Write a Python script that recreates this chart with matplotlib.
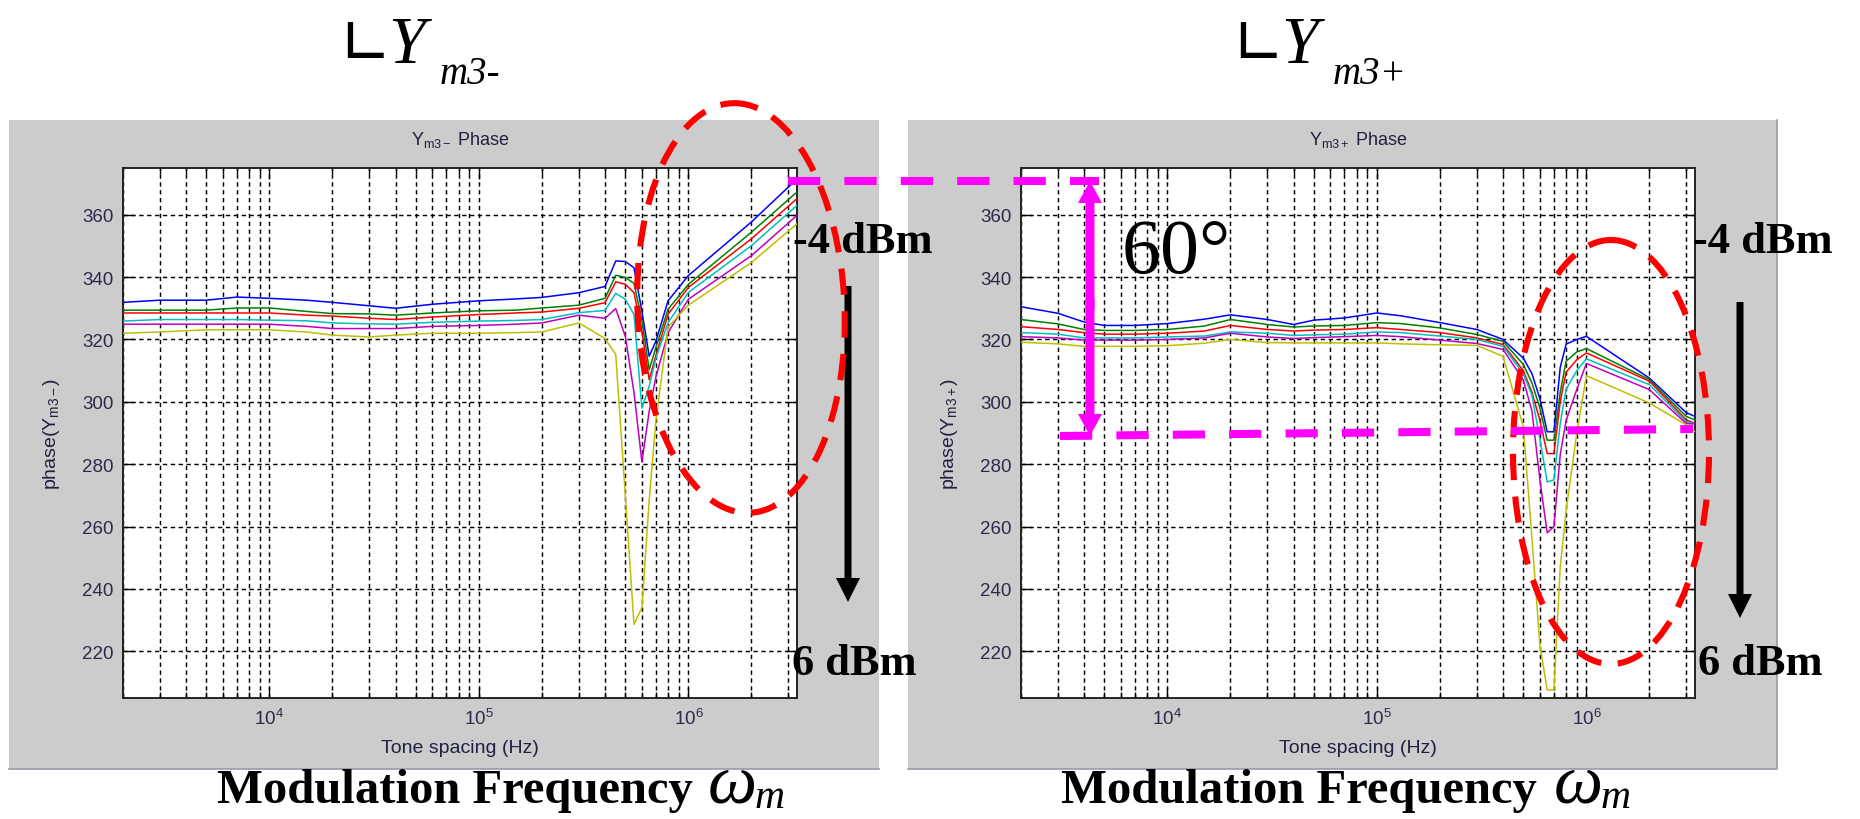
import numpy as np
import matplotlib
matplotlib.use("Agg")
import matplotlib.pyplot as plt
from matplotlib.patches import Rectangle, Ellipse, FancyArrow
from matplotlib.ticker import FixedLocator, LogLocator, NullFormatter, LogFormatterSciNotation

plt.rcParams['font.family'] = ['Liberation Sans', 'DejaVu Sans']
plt.rcParams['mathtext.fontset'] = 'custom'
plt.rcParams['mathtext.rm'] = 'Liberation Sans'
plt.rcParams['mathtext.it'] = 'Liberation Sans:italic'
plt.rcParams['mathtext.bf'] = 'Liberation Sans:bold'

# ---- measured phase of Y_m3- versus tone spacing, one trace per input power ----
freq_minus = [2e3, 3e3, 5e3, 7e3, 1e4, 1.5e4, 2e4, 3e4, 4e4, 6e4, 1e5, 1.5e5, 2e5,
              3e5, 4e5, 4.5e5, 5e5, 5.5e5, 6e5, 6.5e5, 7e5, 8e5, 1e6, 2e6, 3.3e6]
minus_m4dbm = [331.9, 332.6, 332.6, 333.6, 333.2, 332.6, 331.9, 330.8, 330.0, 331.3, 332.4, 333.0, 333.5,
               335.0, 337.0, 345.2, 345.0, 343.0, 329.0, 314.6, 319.5, 332.4, 340.5, 357.7, 371.5]
minus_m2dbm = [329.4, 329.4, 329.4, 330.1, 330.1, 329.0, 328.3, 328.2, 327.8, 328.5, 329.2, 329.4, 330.1,
               331.0, 333.2, 340.6, 339.9, 338.0, 326.0, 310.3, 317.5, 329.7, 337.7, 354.4, 367.3]
minus_0dbm = [328.5, 328.5, 328.5, 328.5, 328.5, 327.8, 327.5, 326.8, 326.4, 327.2, 328.0, 328.5, 328.8,
              330.0, 331.8, 338.5, 337.7, 335.0, 322.5, 307.1, 315.0, 328.1, 336.7, 352.3, 365.2]
minus_2dbm = [325.9, 326.4, 326.4, 326.4, 326.2, 326.0, 325.3, 325.0, 324.9, 325.5, 325.9, 326.1, 326.4,
              328.6, 329.3, 334.8, 332.9, 328.0, 298.0, 305.0, 314.0, 325.4, 335.1, 350.1, 363.0]
minus_4dbm = [324.9, 324.9, 324.9, 324.9, 324.9, 324.2, 323.5, 323.5, 323.5, 324.2, 324.5, 324.9, 325.3,
              327.8, 326.8, 329.9, 321.0, 303.0, 280.7, 297.0, 308.0, 322.2, 332.9, 346.9, 359.8]
minus_6dbm = [322.0, 322.4, 323.1, 323.1, 323.1, 322.4, 321.4, 320.8, 321.4, 322.0, 322.0, 322.2, 322.4,
              325.3, 320.3, 315.2, 270.0, 228.6, 234.0, 268.4, 294.2, 324.0, 331.0, 344.7, 357.1]

# ---- measured phase of Y_m3+ versus tone spacing ----
freq_plus = [2e3, 3e3, 4e3, 5e3, 7e3, 1e4, 1.5e4, 2e4, 3e4, 4e4, 5e4, 7e4, 1e5, 1.3e5, 2e5,
             3e5, 4e5, 5e5, 5.5e5, 6e5, 6.5e5, 7e5, 7.5e5, 8e5, 9e5, 1e6, 2e6, 3e6, 3.3e6]
plus_m4dbm = [330.5, 328.4, 325.6, 324.5, 324.5, 325.1, 326.5, 327.9, 326.4, 324.8, 326.2, 326.9, 328.5, 327.6, 325.4,
              323.2, 320.0, 314.0, 309.0, 301.0, 290.4, 290.4, 311.0, 318.5, 320.0, 321.0, 307.6, 296.5, 295.3]
plus_m2dbm = [326.4, 325.0, 323.2, 322.9, 322.9, 323.2, 324.3, 326.4, 324.8, 324.0, 324.3, 324.5, 325.4, 325.1, 323.7,
              321.6, 319.4, 312.0, 306.0, 298.0, 287.7, 287.7, 303.0, 313.0, 316.0, 317.1, 307.1, 295.3, 294.2]
plus_0dbm = [324.1, 323.2, 322.2, 321.7, 321.7, 322.0, 322.7, 324.5, 323.2, 322.7, 323.0, 323.2, 323.8, 323.2, 322.2,
             320.5, 318.4, 310.0, 303.0, 294.0, 283.4, 283.4, 300.0, 309.5, 313.5, 315.7, 306.6, 294.2, 293.1]
plus_2dbm = [322.2, 321.7, 320.5, 320.5, 320.5, 320.8, 321.1, 322.4, 322.0, 321.3, 321.5, 321.7, 322.4, 322.2, 321.1,
             320.0, 317.8, 309.0, 302.0, 288.0, 274.3, 275.0, 293.0, 304.0, 310.0, 313.8, 305.5, 293.6, 293.0]
plus_4dbm = [320.9, 320.5, 319.8, 319.8, 319.8, 320.0, 320.5, 322.0, 320.8, 320.3, 320.6, 320.9, 321.3, 320.9, 319.8,
             318.7, 316.8, 307.0, 297.0, 275.0, 258.0, 260.0, 283.0, 294.0, 304.0, 312.3, 303.9, 293.0, 292.9]
plus_6dbm = [319.1, 318.6, 317.8, 317.8, 317.8, 318.0, 318.8, 320.0, 319.0, 318.9, 318.9, 318.9, 318.9, 318.6, 318.3,
             318.1, 314.6, 292.0, 256.0, 222.0, 207.6, 207.6, 247.0, 265.0, 290.0, 308.4, 299.6, 292.6, 290.5]

series_minus = [minus_m4dbm, minus_m2dbm, minus_0dbm, minus_2dbm, minus_4dbm, minus_6dbm]
series_plus = [plus_m4dbm, plus_m2dbm, plus_0dbm, plus_2dbm, plus_4dbm, plus_6dbm]
trace_colors = [(0, 0, 1), (0, 0.5, 0), (1, 0, 0), (0, 0.75, 0.75), (0.75, 0, 0.75), (0.75, 0.75, 0)]
y_ticks = [220, 240, 260, 280, 300, 320, 340, 360]

W, H = 1860, 820
fig = plt.figure(figsize=(W / 100, H / 100), dpi=100)
fig.patch.set_facecolor('white')

# grey window backgrounds
bg = fig.add_axes([0, 0, 1, 1], zorder=0)
bg.set_xlim(0, W)
bg.set_ylim(H, 0)
bg.axis('off')
bg.add_patch(Rectangle((9, 121), 870, 649, facecolor='#cccccc', edgecolor='none'))
bg.add_patch(Rectangle((908, 121), 869, 649, facecolor='#cccccc', edgecolor='none'))
bg.plot([9, 879], [770, 770], color='#9a9aaa', lw=1.2)
bg.plot([908, 1777, 1777], [770, 770, 121], color='#9a9aaa', lw=1.2)


def px_axes(x0, y0, x1, y1):
    return fig.add_axes([x0 / W, 1 - y1 / H, (x1 - x0) / W, (y1 - y0) / H], zorder=2)


tick_color = '#2a2a4a'


def draw_panel(ax, freqs, series, title, ylabel):
    for vals, col in zip(series, trace_colors):
        ax.plot(freqs, vals, color=col, lw=1.1, zorder=3)
    ax.set_xscale('log')
    ax.set_xlim(2e3, 3.3e6)
    ax.set_ylim(205, 375)
    ax.set_facecolor('white')
    ax.yaxis.set_major_locator(FixedLocator(y_ticks))
    ax.xaxis.set_major_locator(FixedLocator([1e4, 1e5, 1e6]))
    ax.xaxis.set_major_formatter(LogFormatterSciNotation())
    ax.xaxis.set_minor_locator(LogLocator(base=10, subs=np.arange(2, 10), numticks=30))
    ax.xaxis.set_minor_formatter(NullFormatter())
    grid_kw = dict(color='black', linestyle=(0, (3.0, 2.4)), lw=1.05)
    ax.grid(True, which='both', axis='x', **grid_kw)
    ax.grid(True, which='major', axis='y', **grid_kw)
    ax.set_axisbelow(True)
    ax.tick_params(which='both', direction='in', top=True, right=True, color='black',
                   labelsize=13.5, labelcolor=tick_color, width=1.0)
    ax.tick_params(which='major', length=8, pad=7)
    ax.tick_params(which='minor', length=4)
    for sp in ax.spines.values():
        sp.set_color('#222222')
        sp.set_linewidth(1.4)
    ax.set_title(title, fontsize=13, color='#202040', pad=17)
    ax.set_xlabel('Tone spacing (Hz)', fontsize=14, color='#202040', labelpad=8)
    ax.set_ylabel(ylabel, fontsize=14, color='#202040', labelpad=14)


ax_l = px_axes(123, 169, 797, 699)
draw_panel(ax_l, freq_minus, series_minus, r'Y$_{\rm m3-}$ Phase', r'phase(Y$_{\rm m3-}$)')
ax_r = px_axes(1021, 169, 1695, 699)
draw_panel(ax_r, freq_plus, series_plus, r'Y$_{\rm m3+}$ Phase', r'phase(Y$_{\rm m3+}$)')

# annotation layer in pixel coordinates
ov = fig.add_axes([0, 0, 1, 1], zorder=10)
ov.set_xlim(0, W)
ov.set_ylim(H, 0)
ov.axis('off')
ov.patch.set_alpha(0)

serif = 'Liberation Serif'
for dx, sign in [(0, '-'), (893, '+')]:
    ov.text(338 + dx, 64, '\u221f', family='DejaVu Sans', fontsize=46, va='baseline', ha='left')
    ov.text(388 + dx, 63, 'Y', family=serif, style='italic', fontsize=48, va='baseline', ha='left')
    ov.text(440 + dx, 84, 'm3' + sign, family=serif, style='italic', fontsize=28, va='baseline', ha='left')

for x0 in (217, 1061):
    ov.text(x0, 803, 'Modulation Frequency', family=serif, weight='bold', fontsize=35,
            va='baseline', ha='left')
for x0 in (708, 1554):
    ov.text(x0, 803, '\u03c9', family=serif, style='italic', fontsize=50, va='baseline', ha='left')
    ov.text(x0 + 46, 808, 'm', family=serif, style='italic', fontsize=30, va='baseline', ha='left')

# input power labels
for x0 in (793, 1693):
    ov.text(x0, 253, '-4 dBm', family=serif, weight='bold', fontsize=32, va='baseline', ha='left')
for x0 in (792, 1698):
    ov.text(x0, 675, '6 dBm', family=serif, weight='bold', fontsize=32, va='baseline', ha='left')

# power sweep direction arrows
for x0, y0, y1 in [(848, 287, 603), (1740, 303, 619)]:
    ov.add_patch(FancyArrow(x0, y0, 0, y1 - y0, width=7, head_width=24, head_length=24,
                            length_includes_head=True, color='black', lw=0))

# red dashed highlight ellipses
ell_kw = dict(fill=False, edgecolor='#ff0000', lw=4.4, linestyle=(0, (4.3, 2.7)))
ov.add_patch(Ellipse((741, 309), 207, 410, angle=-2.5, **ell_kw))
ov.add_patch(Ellipse((1611, 453), 196, 424, angle=0, **ell_kw))

# 60 degree span marker
mag = '#ff00ff'
dash_kw = dict(color=mag, lw=5.8, linestyle=(0, (4.0, 3.0)), solid_capstyle='butt',
               dash_capstyle='butt')
ov.plot([788, 1099], [182, 182], **dash_kw)
ov.plot([1060, 1693], [437, 430], **dash_kw)
ov.add_patch(FancyArrow(1090, 310, 0, 182 - 310, width=9, head_width=24, head_length=22,
                        length_includes_head=True, color=mag, lw=0))
ov.add_patch(FancyArrow(1090, 300, 0, 437 - 300, width=9, head_width=24, head_length=22,
                        length_includes_head=True, color=mag, lw=0))
ov.text(1122, 273, '60\u00b0', family=serif, fontsize=56, va='baseline', ha='left')

fig.savefig('out.png', dpi=100, facecolor='white')
